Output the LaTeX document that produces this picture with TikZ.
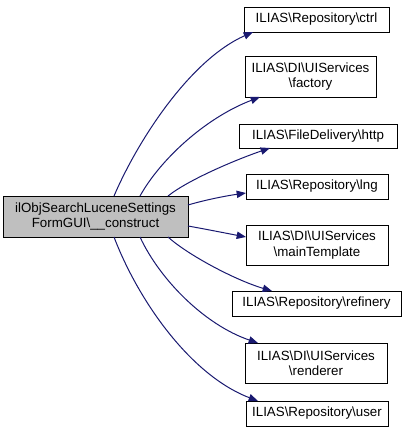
\documentclass[tikz,border=0pt]{standalone}
\usepackage{fontspec}
\setmainfont{Liberation Sans}
\usetikzlibrary{arrows.meta}
\definecolor{edgeblue}{HTML}{191970}
\definecolor{mainfill}{HTML}{BFBFBF}
\newcommand{\bs}{\textbackslash}
\begin{document}
\begin{tikzpicture}[x=0.75pt,y=-0.75pt,
  box/.style={draw=black,line width=0.75pt,fill=white,inner sep=0pt,align=center,
    font=\fontsize{10}{11.5}\selectfont},
  edge/.style={draw=edgeblue,line width=0.75pt,-{Triangle[length=7pt,width=5.5pt]}}]
\useasboundingbox (0,0) rectangle (407,440);
\node[box,fill=mainfill,minimum width=138.75pt,minimum height=30.75pt] (main) at (95.5,216.5)
  {ilObjSearchLuceneSettings\\FormGUI\bs\_\_construct};
\node[box,minimum width=108.75pt,minimum height=18.75pt] (ctrl) at (316.5,19.5) {ILIAS\bs Repository\bs ctrl};
\node[box,minimum width=98.25pt,minimum height=30.75pt] (factory) at (310.5,76.5) {ILIAS\bs DI\bs UIServices\\\bs factory};
\node[box,minimum width=118.5pt,minimum height=18pt] (http) at (318,136) {ILIAS\bs FileDelivery\bs http};
\node[box,minimum width=106.5pt,minimum height=18.75pt] (lng) at (317,186.5) {ILIAS\bs Repository\bs lng};
\node[box,minimum width=106.5pt,minimum height=30pt] (tpl) at (317,245) {ILIAS\bs DI\bs UIServices\\\bs mainTemplate};
\node[box,minimum width=126.75pt,minimum height=18.75pt] (ref) at (316.5,303.5) {ILIAS\bs Repository\bs refinery};
\node[box,minimum width=106.5pt,minimum height=30pt] (rend) at (316,363) {ILIAS\bs DI\bs UIServices\\\bs renderer};
\node[box,minimum width=106.5pt,minimum height=18.75pt] (user) at (317,413.5) {ILIAS\bs Repository\bs user};
\coordinate (s1) at (114,196);
\coordinate (s2) at (140,196);
\coordinate (s3) at (168,196);
\coordinate (s4) at (188,205);
\coordinate (s5) at (188,226);
\coordinate (s6) at (168,237);
\coordinate (s7) at (140,237);
\coordinate (s8) at (114,237);
\coordinate (t1) at (253,32);
\coordinate (t2) at (260,97);
\coordinate (t3) at (270,148);
\coordinate (t4) at (246,193);
\coordinate (t5) at (246,237);
\coordinate (t6) at (272,291);
\coordinate (t7) at (258,343);
\coordinate (t8) at (258,401);
\draw[edge] (s1) .. controls (138,140) and (190,60) .. (t1);
\draw[edge] (s2) .. controls (160,160) and (205,118) .. (t2);
\draw[edge] (s3) .. controls (188,180) and (235,160) .. (t3);
\draw[edge] (s4) .. controls (205,200) and (225,196) .. (t4);
\draw[edge] (s5) .. controls (205,229) and (225,233) .. (t5);
\draw[edge] (s6) .. controls (188,255) and (235,280) .. (t6);
\draw[edge] (s7) .. controls (160,280) and (205,325) .. (t7);
\draw[edge] (s8) .. controls (138,300) and (190,375) .. (t8);
\end{tikzpicture}
\end{document}
